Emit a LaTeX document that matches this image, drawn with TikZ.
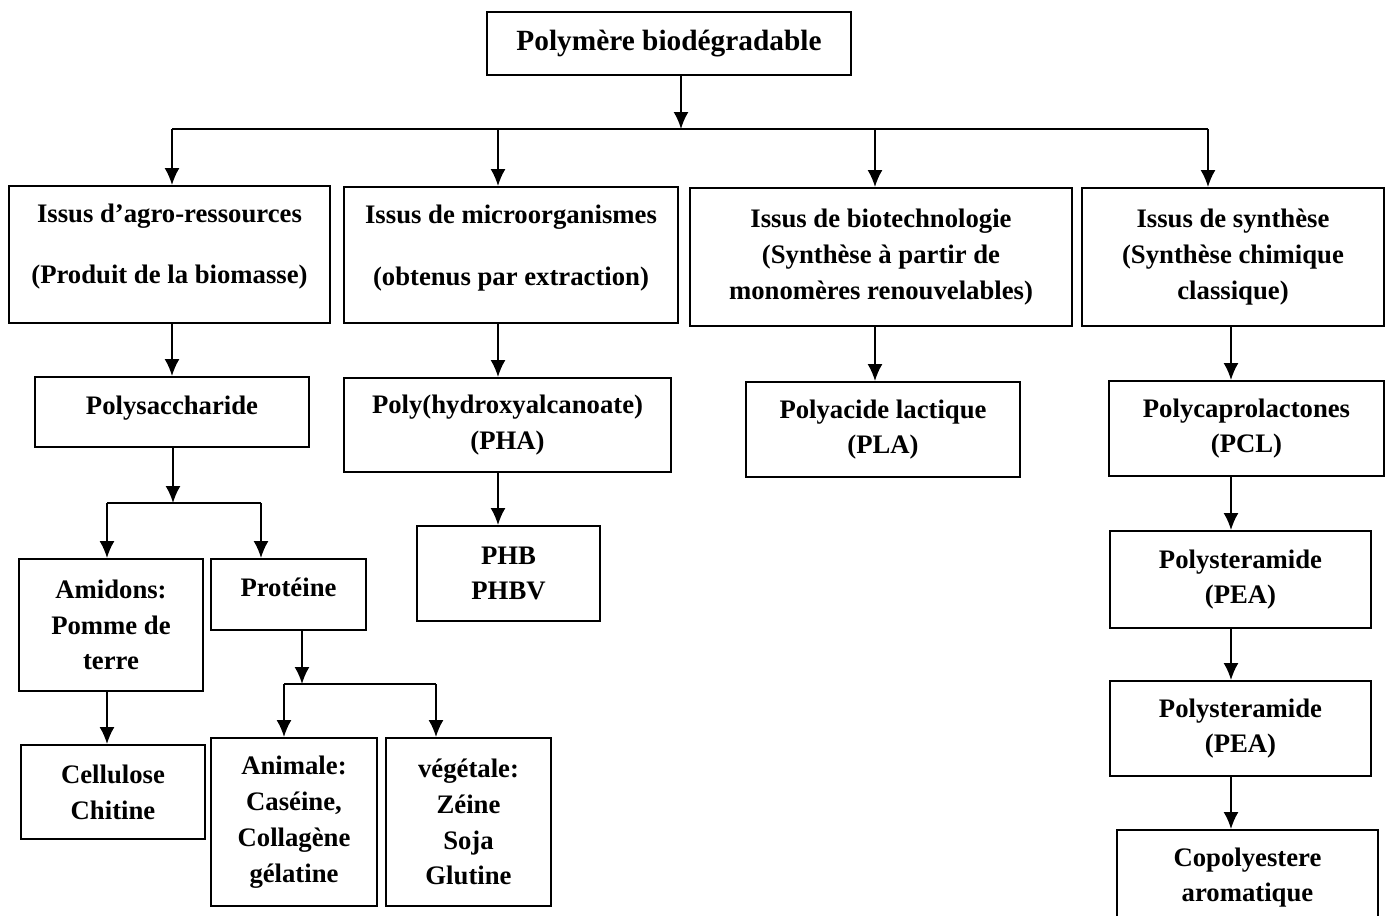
\documentclass[tikz,border=0pt]{standalone}
\usepackage{fontspec}
\setmainfont{Liberation Serif}
\usepackage{tikz}
\usetikzlibrary{arrows.meta}
\usetikzlibrary{calc}

\begin{document}
\begin{tikzpicture}[
    x=0.02cm, y=-0.02cm,
    block/.style={rectangle, draw=black, line width=1.1pt, fill=white, align=center, inner sep=0pt,
        font=\bfseries\fontsize{15.2}{20.4}\selectfont},
    line/.style={line width=1.1pt},
    arr/.style={line width=1.1pt, -{Latex[length=0.34cm,width=0.3cm]}},
]
    \path[use as bounding box, clip] (0,0) rectangle (1390,916);

    \node[block, minimum width=7.28cm, minimum height=1.26cm, font=\bfseries\fontsize{16.7}{20}\selectfont] (P0) at (669,43.5) {Polymère biodégradable};

    \node[block, minimum width=6.42cm, minimum height=2.74cm, text depth=12pt] (B1) at (169.5,254.5) {Issus d’agro-ressources\\[14.6pt](Produit de la biomasse)};
    \node[block, minimum width=6.68cm, minimum height=2.72cm, text depth=11pt] (B2) at (511,255) {Issus de microorganismes\\[14.6pt](obtenus par extraction)};
    \node[block, minimum width=7.64cm, minimum height=2.76cm] (B3) at (881,257) {Issus de biotechnologie\\(Synthèse à partir de\\monomères renouvelables)};
    \node[block, minimum width=6.04cm, minimum height=2.76cm] (B4) at (1233,257) {Issus de synthèse\\(Synthèse chimique\\classique)};

    \node[block, minimum width=5.48cm, minimum height=1.40cm, text depth=8pt] (Poly) at (172,412) {Polysaccharide};
    \node[block, minimum width=6.54cm, minimum height=1.88cm] (PHA) at (507.5,425) {Poly(hydroxyalcanoate)\\(PHA)};
    \node[block, minimum width=5.48cm, minimum height=1.90cm] (PLA) at (883,429.5) {Polyacide lactique\\(PLA)};
    \node[block, minimum width=5.50cm, minimum height=1.90cm] (PCL) at (1246.5,428.5) {Polycaprolactones\\(PCL)};

    \node[block, minimum width=3.68cm, minimum height=2.64cm] (Amid) at (111,625) {Amidons:\\Pomme de\\terre};
    \node[block, minimum width=3.10cm, minimum height=1.42cm, text depth=8pt] (Prot) at (288.5,594.5) {Protéine};
    \node[block, minimum width=3.66cm, minimum height=1.90cm] (PHB) at (508.5,573.5) {PHB\\PHBV};
    \node[block, minimum width=5.22cm, minimum height=1.94cm] (PEA1) at (1240.5,579.5) {Polysteramide\\(PEA)};
    \node[block, minimum width=5.22cm, minimum height=1.90cm] (PEA2) at (1240.5,728.5) {Polysteramide\\(PEA)};
    \node[block, minimum width=5.22cm, minimum height=1.90cm] (Copo) at (1247.5,877.5) {Copolyestere\\aromatique};

    \node[block, minimum width=3.68cm, minimum height=1.88cm] (Cell) at (113,792) {Cellulose\\Chitine};
    \node[block, minimum width=3.32cm, minimum height=3.36cm] (Anim) at (294,822) {Animale:\\Caséine,\\Collagène\\gélatine};
    \node[block, minimum width=3.30cm, minimum height=3.36cm] (Veg) at (468.5,822) {végétale:\\Zéine\\Soja\\Glutine};

    \coordinate (hub) at (681,129);
    \coordinate (hA) at (172,129);
    \coordinate (hB) at (498,129);
    \coordinate (hC) at (875,129);
    \coordinate (hD) at (1208,129);
    \coordinate (vD) at (1231,0);

    \draw[arr] (P0.south -| hub) -- (hub);
    \draw[line] (hA) -- (hD);
    \draw[arr] (hA) -- (hA |- B1.north);
    \draw[arr] (hB) -- (hB |- B2.north);
    \draw[arr] (hC) -- (hC |- B3.north);
    \draw[arr] (hD) -- (hD |- B4.north);

    \draw[arr] (B1.south -| Poly) -- (Poly.north);
    \draw[arr] (B2.south -| hB) -- (PHA.north -| hB);
    \draw[arr] (PHA.south -| hB) -- (PHB.north -| hB);
    \draw[arr] (B3.south -| hC) -- (PLA.north -| hC);

    \draw[arr] (B4.south -| vD) -- (PCL.north -| vD);
    \draw[arr] (PCL.south -| vD) -- (PEA1.north -| vD);
    \draw[arr] (PEA1.south -| vD) -- (PEA2.north -| vD);
    \draw[arr] (PEA2.south -| vD) -- (Copo.north -| vD);

    \coordinate (jP) at (173,503);
    \coordinate (jPa) at (107,503);
    \coordinate (jPb) at (261,503);
    \draw[arr] (Poly.south -| jP) -- (jP);
    \draw[line] (jPa) -- (jPb);
    \draw[arr] (jPa) -- (jPa |- Amid.north);
    \draw[arr] (jPb) -- (jPb |- Prot.north);
    \draw[arr] (Amid.south -| jPa) -- (Cell.north -| jPa);

    \coordinate (jQ) at (302,684);
    \coordinate (jQa) at (284,684);
    \coordinate (jQb) at (436,684);
    \draw[arr] (Prot.south -| jQ) -- (jQ);
    \draw[line] (jQa) -- (jQb);
    \draw[arr] (jQa) -- (jQa |- Anim.north);
    \draw[arr] (jQb) -- (jQb |- Veg.north);
\end{tikzpicture}
\end{document}
